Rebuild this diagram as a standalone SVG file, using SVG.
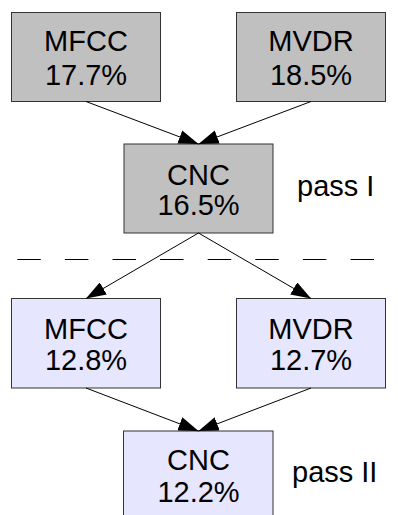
<svg xmlns="http://www.w3.org/2000/svg" width="398" height="515" viewBox="0 0 398 515">
  <style>
    .box { stroke: #333333; stroke-width: 1; }
    .p1 { fill: #c0c0c0; }
    .p2 { fill: #e6e6ff; }
    text { font-family: "Liberation Sans", Arial, sans-serif; font-size: 29px; fill: #000000; }
    .c { text-anchor: middle; }
    .edge { stroke: #000000; stroke-width: 1; fill: none; marker-end: url(#arrow); }
    .sep { stroke: #000000; stroke-width: 1; stroke-dasharray: 23.5 24.1; fill: none; }
  </style>
  <defs>
    <marker id="arrow" markerUnits="userSpaceOnUse" markerWidth="20" markerHeight="14" viewBox="0 0 20 14" refX="20" refY="7" orient="auto">
      <path d="M0,0 L20,7 L0,14 z" fill="#000000"/>
    </marker>
  </defs>
  <rect width="398" height="515" fill="#ffffff"/>

  <!-- pass I -->
  <g id="mfcc1">
    <rect class="box p1" x="11.5" y="12.5" width="149" height="89"/>
    <text class="c" x="86" y="50.5">MFCC</text>
    <text class="c" x="86" y="84.5">17.7%</text>
  </g>
  <g id="mvdr1">
    <rect class="box p1" x="236.5" y="12.5" width="149" height="89"/>
    <text class="c" x="311" y="50.5">MVDR</text>
    <text class="c" x="311" y="84.5">18.5%</text>
  </g>
  <g id="cnc1">
    <rect class="box p1" x="124" y="144" width="149" height="89"/>
    <text class="c" x="198.5" y="184.5">CNC</text>
    <text class="c" x="198.5" y="215">16.5%</text>
  </g>
  <text id="label-pass1" x="297" y="196">pass I</text>

  <!-- pass separator -->
  <line class="sep" x1="17.3" y1="259.5" x2="374" y2="259.5"/>

  <!-- pass II -->
  <g id="mfcc2">
    <rect class="box p2" x="11.5" y="298.5" width="149" height="89.5"/>
    <text class="c" x="86" y="338.5">MFCC</text>
    <text class="c" x="86" y="370">12.8%</text>
  </g>
  <g id="mvdr2">
    <rect class="box p2" x="236.5" y="298.5" width="149" height="89.5"/>
    <text class="c" x="311" y="338.5">MVDR</text>
    <text class="c" x="311" y="370">12.7%</text>
  </g>
  <g id="cnc2">
    <rect class="box p2" x="123.5" y="431" width="149.5" height="89"/>
    <text class="c" x="198.5" y="470">CNC</text>
    <text class="c" x="198.5" y="501.5">12.2%</text>
  </g>
  <text id="label-pass2" x="292" y="482">pass II</text>

  <!-- connectors -->
  <g id="edges">
    <line class="edge" x1="86" y1="101.5" x2="198.5" y2="144"/>
    <line class="edge" x1="311" y1="101.5" x2="198.5" y2="144"/>
    <line class="edge" x1="198.5" y1="233" x2="86" y2="298.5"/>
    <line class="edge" x1="198.5" y1="233" x2="311" y2="298.5"/>
    <line class="edge" x1="86" y1="388" x2="198.5" y2="431"/>
    <line class="edge" x1="311" y1="388" x2="198.5" y2="431"/>
  </g>
</svg>
